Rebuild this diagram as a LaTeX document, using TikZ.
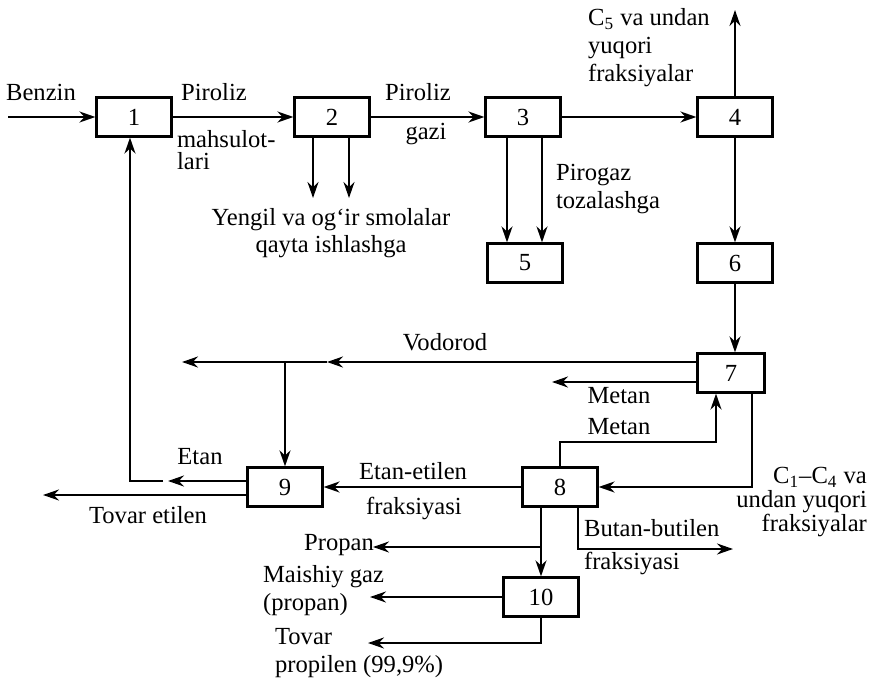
\documentclass[tikz,border=0pt]{standalone}
\usepackage{fontspec}
\setmainfont{Liberation Serif}
\usetikzlibrary{arrows.meta}

\begin{document}
\begin{tikzpicture}[x=0.5pt,y=-0.5pt,>={Stealth[length=8pt,width=5.5pt]},line width=1.1pt,
  blok/.style={draw,minimum width=37.5pt,minimum height=19.5pt,inner sep=0pt},
  yoz/.style={inner sep=0pt,font=\fontsize{12.3}{14}\selectfont}]
\useasboundingbox (0,0) rectangle (873,679);
% bloklar
\foreach \n/\x/\y in {1/134/117,2/332/117,3/523/117,4/735/117,5/525/263,6/735/263,8/560/487,9/285/487,10/541/597}
  {\node[blok,yoz] (b\n) at (\x,\y) {\n};}
\node[blok,yoz,minimum width=33.5pt] (b7) at (731,373) {7};
% yuqori qator
\coordinate (kir) at (8,117); \coordinate (yuq) at (735,10);
\coordinate (s1) at (313,198); \coordinate (s2) at (349,198);
\draw[->] (kir) -- (b1);
\draw[->] (b1) -- (b2);
\draw[->] (b2) -- (b3);
\draw[->] (b3) -- (b4);
\draw[->] (b4) -- (yuq);
\draw[->] (b2.south -| s1) -- (s1);
\draw[->] (b2.south -| s2) -- (s2);
\draw[->] ([xshift=-8pt]b3.south) -- ([xshift=-8pt]b3.south |- b5.north);
\draw[->] ([xshift=9.5pt]b3.south) -- ([xshift=9.5pt]b3.south |- b5.north);
\draw[->] (b4) -- (b6);
\draw[->] (b6) -- (b6 |- b7.north);
\node[yoz] (benz) at (41,92) {Benzin};
\node[yoz] (pir1) at (214,92) {Piroliz};
\node[yoz,align=left,anchor=west,font=\fontsize{12.3}{11}\selectfont] (mah) at (176,150) {mahsulot-\\lari};
\node[yoz] (pir2) at (418,92) {Piroliz};
\node[yoz] (gaz) at (426,134) {gazi};
\node[yoz,align=center,font=\fontsize{12.3}{13.5}\selectfont] (smo) at (331,233) {Yengil va og‘ir smolalar\\qayta ishlashga};
\node[yoz,align=left,anchor=west] (toz) at (555,189) {Pirogaz\\tozalashga};
\node[yoz,align=left,anchor=west] (c5) at (587,48) {C\textsubscript{5} va undan\\yuqori\\fraksiyalar};
% ajratish
\coordinate (vod) at (182,362); \coordinate (vodm) at (327,362);
\coordinate (met) at (552,382); \coordinate (mq) at (716,442);
\coordinate (cq) at (752,487);
\draw[->] (b7.west |- vod) -- (vodm);
\draw[->] (vodm) -- (vod);
\draw[->] (b9 |- vod) -- (b9);
\draw[->] (b7.west |- met) -- (met);
\draw[->] (b8.north) |- (mq) -- (mq |- b7.south);
\draw[->] (b7.south -| cq) -- (cq) -- (b8);
\draw[->] (b8) -- (b9);
\node[yoz] (vodl) at (445,342) {Vodorod};
\node[yoz] (met1) at (619,396) {Metan};
\node[yoz] (met2) at (619,427) {Metan};
\node[yoz,align=right,anchor=east,font=\fontsize{12.3}{12}\selectfont] (c14) at (868,502) {C\textsubscript{1}–C\textsubscript{4} va\\undan yuqori\\fraksiyalar};
\node[yoz] (ee1) at (413,471) {Etan-etilen};
\node[yoz] (ee2) at (414,508) {fraksiyasi};
% etan, etilen
\coordinate (etan) at (168,481); \coordinate (qay) at (163,481);
\coordinate (q1) at (130,481); \coordinate (tov) at (43,495);
\draw[->] (b9.west |- etan) -- (etan);
\draw[->] (qay) -- (q1) -- (q1 |- b1.south);
\draw[->] (b9.west |- tov) -- (tov);
\node[yoz] (etl) at (200,457) {Etan};
\node[yoz] (tel) at (148,515) {Tovar etilen};
% propan, propilen
\coordinate (pro) at (373,547); \coordinate (bb) at (578,549);
\coordinate (but) at (733,549); \coordinate (mai) at (370,597);
\coordinate (tp) at (368,643);
\draw[->] (b8.south -| b10) -- (b10);
\draw[->] (b10 |- pro) -- (pro);
\draw[->] (b8.south -| bb) -- (bb) -- (but);
\draw[->] (b10) -- (mai);
\draw[->] (b10.south) |- (tp);
\node[yoz,anchor=east] (prol) at (375,545) {Propan};
\node[yoz,anchor=west] (bb1) at (583,528) {Butan-butilen};
\node[yoz,anchor=west] (bb2) at (583,563) {fraksiyasi};
\node[yoz,align=left,anchor=west] (mg) at (262,591) {Maishiy gaz\\(propan)};
\node[yoz,align=left,anchor=west] (tpl) at (274,653) {Tovar\\propilen (99,9\%)};
\end{tikzpicture}
\end{document}
